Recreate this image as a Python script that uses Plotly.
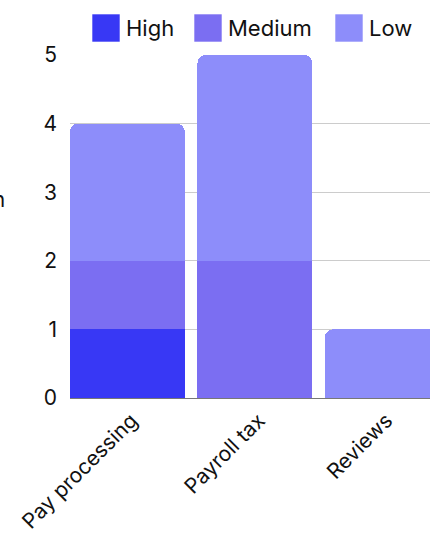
import plotly.graph_objects as go

categories = ["Pay processing", "Payroll tax", "Reviews"]
series_names = ["High", "Medium", "Low"]
high_values = [1, 0, 0]
medium_values = [1, 2, 0]
low_values = [2, 3, 1]
series_values = [high_values, medium_values, low_values]
colors = ["#3838F5", "#7B6EF2", "#8D8DFA"]
y_ticks = [0, 1, 2, 3, 4, 5]

W, H = 430, 542
ML, MR, MT, MB = 70, 0, 55, 144
FONT = "Inter, Roboto, sans-serif"

fig = go.Figure()
for name, vals, col in zip(series_names, series_values, colors):
    fig.add_trace(go.Bar(
        x=categories, y=vals, name=name,
        marker=dict(color=col, line=dict(width=0)),
        showlegend=False,
    ))

# custom legend (large squares)
pw, ph = W - ML - MR, H - MT - MB
def px(x):
    return (x - ML) / pw
def py(y):
    return (H - MB - y) / ph

legend_items = list(zip(series_names, colors, [92, 194, 335]))
shapes = []
annotations = []
for name, col, x0 in legend_items:
    shapes.append(dict(type="rect", xref="paper", yref="paper",
                       x0=px(x0), x1=px(x0 + 28), y0=py(42), y1=py(14),
                       fillcolor=col, line=dict(width=1, color="rgba(255,255,255,0.6)")))
    annotations.append(dict(text=name, xref="paper", yref="paper",
                            x=px(x0 + 32), y=py(28), xanchor="left", yanchor="middle",
                            showarrow=False, font=dict(size=22, color="#111", family=FONT)))

annotations.append(dict(text="Month", xref="paper", yref="paper",
                        x=px(7), y=py(200), xanchor="right", yanchor="middle",
                        showarrow=False, font=dict(size=21, color="#111", family=FONT)))

fig.update_layout(
    width=W, height=H,
    margin=dict(l=ML, r=MR, t=MT, b=MB),
    barmode="stack",
    bargap=0.1,
    barcornerradius=8,
    plot_bgcolor="white", paper_bgcolor="white",
    font=dict(family=FONT, size=21, color="#111"),
    shapes=shapes,
    annotations=annotations,
    showlegend=False,
)
fig.update_xaxes(
    range=[-0.45, 2.374], tickangle=-45, showgrid=False,
    showline=True, linecolor="#777", linewidth=1,
    tickfont=dict(size=21, family=FONT, color="#111"),
    ticks="", ticklabelshift=4, ticklabelstandoff=1,
)
fig.update_yaxes(
    range=[0, 5], tickvals=y_ticks, showgrid=True, gridcolor="#CCCCCC",
    gridwidth=1, zeroline=False, showline=False,
    tickfont=dict(size=21, family=FONT, color="#111"),
    ticklabelstandoff=12,
)

fig.write_html("out.html")
